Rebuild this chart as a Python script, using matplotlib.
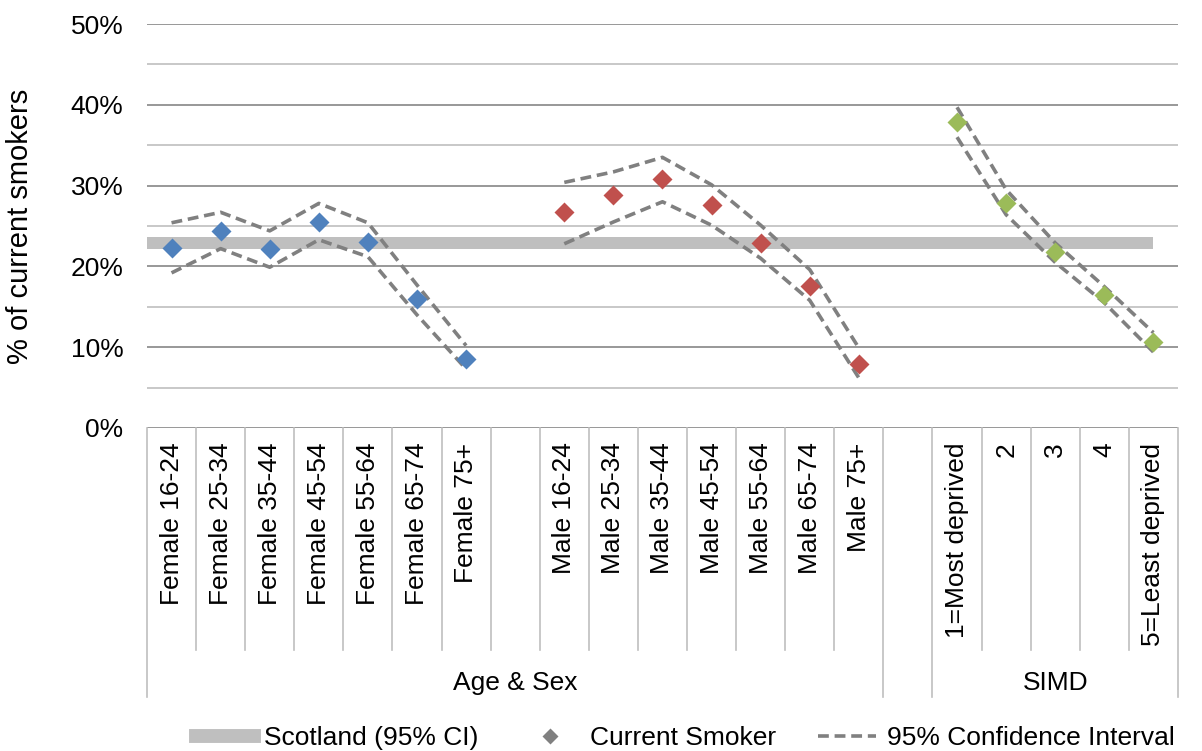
import matplotlib
matplotlib.use('Agg')
import matplotlib.pyplot as plt
from matplotlib.lines import Line2D
import numpy as np

plt.rcParams['font.family'] = ['Liberation Sans', 'DejaVu Sans']

# categories (empty strings are spacer slots)
categories = ['Female 16-24', 'Female 25-34', 'Female 35-44', 'Female 45-54',
              'Female 55-64', 'Female 65-74', 'Female 75+', '',
              'Male 16-24', 'Male 25-34', 'Male 35-44', 'Male 45-54',
              'Male 55-64', 'Male 65-74', 'Male 75+', '',
              '1=Most deprived', '2', '3', '4', '5=Least deprived']
groups = ['Age & Sex', '', 'SIMD']
group_bounds = [0, 15, 16, 21]   # slot boundaries of each group

# % current smokers with 95% CI
female = [22.3, 24.4, 22.2, 25.5, 23.0, 16.0, 8.5]
female_lo = [19.2, 22.2, 19.9, 23.3, 21.2, 14.0, 7.3]
female_hi = [25.4, 26.7, 24.4, 27.8, 25.4, 17.7, 10.2]

male = [26.7, 28.8, 30.8, 27.6, 22.9, 17.6, 7.9]
male_lo = [22.8, 25.5, 28.0, 25.1, 21.0, 15.8, 6.2]
male_hi = [30.4, 31.7, 33.5, 30.1, 25.1, 19.6, 9.9]

simd = [37.9, 27.8, 21.8, 16.5, 10.6]
simd_lo = [36.0, 26.4, 20.5, 15.5, 9.4]
simd_hi = [39.7, 29.5, 22.9, 17.5, 11.8]

scotland_lo = 22.1
scotland_hi = 23.6

fig = plt.figure(figsize=(12.02, 7.51), dpi=100)
ax = fig.add_axes([0.1223, 0.4301, 0.8577, 0.5379])

x_f = np.arange(0, 7)
x_m = np.arange(8, 15)
x_s = np.arange(16, 21)

# Scotland band
ax.fill_between([-0.5, 20], scotland_lo, scotland_hi, color='#BFBFBF', lw=0, zorder=2)

ci_style = dict(color='#808080', ls=(0, (3, 1.6)), lw=2.6, zorder=3)
for xs, lo, hi in [(x_f, female_lo, female_hi), (x_m, male_lo, male_hi), (x_s, simd_lo, simd_hi)]:
    ax.plot(xs, lo, **ci_style)
    ax.plot(xs, hi, **ci_style)

ax.plot(x_f, female, 'D', color='#4F81BD', ms=10.5, mec='none', zorder=4)
ax.plot(x_m, male, 'D', color='#C0504D', ms=10.5, mec='none', zorder=4)
ax.plot(x_s, simd, 'D', color='#9BBB59', ms=10.5, mec='none', zorder=4)

ax.set_xlim(-0.5, 20.5)
ax.set_ylim(0, 50)
ax.set_yticks(np.arange(0, 51, 10))
ax.set_yticks(np.arange(5, 50, 10), minor=True)
ax.set_yticklabels([f'{v}%' for v in range(0, 51, 10)], fontsize=19)
ax.tick_params(axis='y', which='both', length=0, pad=17)
ax.grid(axis='y', which='major', color='#868686', lw=1.2, zorder=0)
ax.grid(axis='y', which='minor', color='#BFBFBF', lw=1.2, zorder=0)
ax.set_xticks([])
for s in ax.spines.values():
    s.set_visible(False)
ax.set_ylabel('% of current smokers', fontsize=21)
ax.yaxis.set_label_coords(-0.110, 0.5)

# multi-level category axis
trans = ax.get_xaxis_transform()
for k in range(22):
    ybot = -0.666 if k in group_bounds else -0.5495
    ax.plot([k - 0.5, k - 0.5], [0, ybot], color='#BFBFBF', lw=1.2,
            transform=trans, clip_on=False)
for i, lab in enumerate(categories):
    ax.text(i, -0.036, lab, rotation=90, ha='center', va='top', fontsize=19,
            transform=trans)
for g, lab in enumerate(groups):
    mid = (group_bounds[g] + group_bounds[g + 1]) / 2 - 0.5
    ax.text(mid, -0.632, lab, ha='center', va='center', fontsize=19, transform=trans)

handles = [Line2D([], [], color='#BFBFBF', lw=10),
           Line2D([], [], ls='none', marker='D', color='#808080', ms=8, mec='none'),
           Line2D([], [], color='#808080', ls=(0, (3, 1.6)), lw=2.6)]
fig.legend(handles, ['Scotland (95% CI)', 'Current Smoker', '95% Confidence Interval'],
           loc='center', bbox_to_anchor=(0.570, 0.017), ncol=3, frameon=False,
           fontsize=19, handlelength=2.2, columnspacing=1.6, handletextpad=0.4,
           borderpad=0, borderaxespad=0)

fig.savefig('out.png', dpi=100)
